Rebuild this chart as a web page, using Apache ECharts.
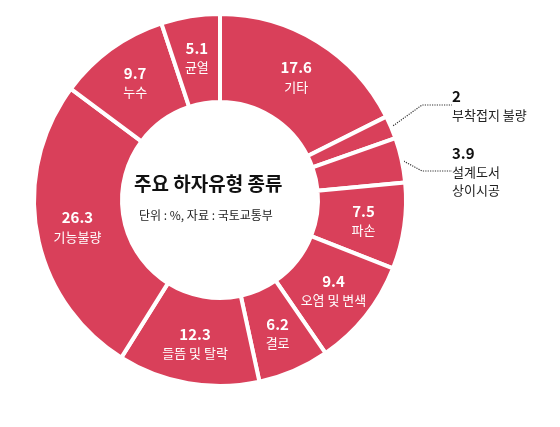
<!DOCTYPE html><html><head><meta charset="utf-8"><script src="https://cdn.jsdelivr.net/npm/echarts@6/dist/echarts.min.js"></script>
<style>body{margin:0;background:#fff}#c{width:560px;height:427px}</style></head><body><div id="c"></div><script>
const names=['기타','부착접지 불량','설계도서\n상이시공','파손','오염 및 변색','결로','들뜸 및 탈락','기능불량','누수','균열'];
const values=[17.6,2,3.9,7.5,9.4,6.2,12.3,26.3,9.7,5.1];
const outsideIdx=[1,2];
const outsidePos={1:[452,86],2:[452,143]};
const ch=echarts.init(document.getElementById('c'));
const data=names.map((n,i)=>{
 const out=outsideIdx.includes(i);
 return {name:n,value:values[i],
  label:out?{position:'outside',color:'#111',formatter:'{v|{c}}\n{n|{b}}',rich:{v:{fontSize:15,fontWeight:'bold',color:'#111',lineHeight:20},n:{fontSize:13,color:'#222',lineHeight:18}}}:{position:'inside'},
  labelLine:out?{show:true,lineStyle:{type:'dotted',color:'#333',width:1.2}}:{show:false}};
});
ch.setOption({animation:false,
 graphic:[
  {type:'text',z:100,left:134,top:174,style:{text:'주요 하자유형 종류',font:'bold 19px "Noto Sans CJK KR"',fill:'#111'}},
  {type:'text',z:100,left:139,top:209,style:{text:'단위 : %, 자료 : 국토교통부',font:'12px "Noto Sans CJK KR"',fill:'#222'}}
 ],
 series:[{type:'pie',center:[220,200],radius:[98,186],startAngle:90,clockwise:true,
  itemStyle:{color:'#d9405a',borderColor:'#fff',borderWidth:4},
  label:{color:'#fff',fontFamily:'Noto Sans CJK KR',formatter:'{v|{c}}\n{n|{b}}',rich:{v:{fontSize:15,fontWeight:'bold',color:'#fff',lineHeight:20},n:{fontSize:13,color:'#fff',lineHeight:18}}},
  labelLayout:function(p){const q=outsidePos[p.dataIndex];if(q)return {x:q[0],y:q[1],align:'left',verticalAlign:'top'};return {};},
  data:data}]
});
</script></body></html>
